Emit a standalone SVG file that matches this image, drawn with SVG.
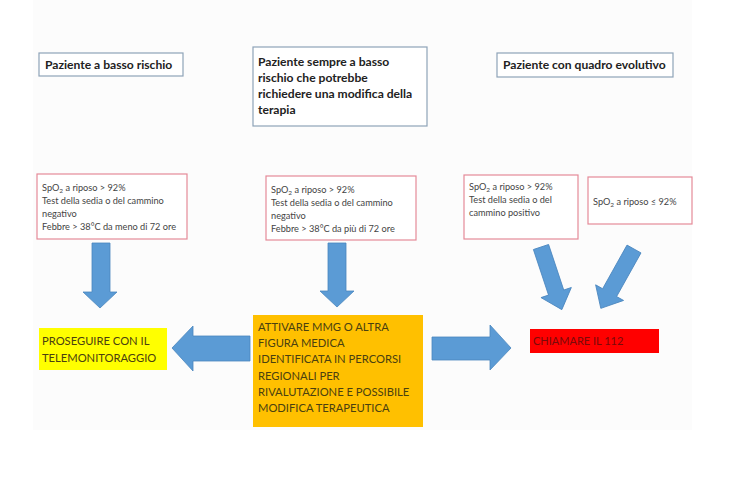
<svg xmlns="http://www.w3.org/2000/svg" width="740" height="480" viewBox="0 0 740 480">
<defs>
<style>
.hdr{fill:#fff;stroke:#8ea3b8;stroke-width:1.2}
.crit{fill:#fff;stroke:#e58a98;stroke-width:1.2}
.ht{font-family:Lato,"Liberation Sans",sans-serif;font-weight:bold;font-size:12.1px;fill:#222}
.ct{font-family:Lato,"Liberation Sans",sans-serif;font-size:9.2px;fill:#444}
.at{font-family:Lato,"Liberation Sans",sans-serif;font-size:11.2px;fill:#4a4010}
.arr{fill:#5b9bd5;stroke:#4a86be;stroke-width:0.8}
</style>
</defs>
<rect x="0" y="0" width="740" height="480" fill="#fff"/>
<rect x="33" y="0" width="659" height="430" fill="#fcfcfc"/>

<g id="hdr1">
<rect class="hdr" x="39" y="53" width="144" height="23"/>
<text class="ht" x="45" y="69">Paziente a basso rischio</text>
</g>
<g id="hdr2">
<rect class="hdr" x="253" y="47" width="174" height="79"/>
<text class="ht" x="258" y="66">Paziente sempre a basso</text>
<text class="ht" x="258" y="82">rischio che potrebbe</text>
<text class="ht" x="258" y="98">richiedere una modifica della</text>
<text class="ht" x="258" y="114">terapia</text>
</g>
<g id="hdr3">
<rect class="hdr" x="497" y="53" width="176" height="24"/>
<text class="ht" x="503" y="69">Paziente con quadro evolutivo</text>
</g>

<g id="crit1">
<rect class="crit" x="37" y="174" width="150" height="65"/>
<text class="ct" x="42" y="191">SpO<tspan font-size="6.5" dy="2">2</tspan><tspan dy="-2"> a riposo &gt; 92%</tspan></text>
<text class="ct" x="42" y="204">Test della sedia o del cammino</text>
<text class="ct" x="42" y="217">negativo</text>
<text class="ct" x="42" y="230">Febbre &gt; 38°C da meno di 72 ore</text>
</g>
<g id="crit2">
<rect class="crit" x="266" y="176" width="150" height="64"/>
<text class="ct" x="271" y="193">SpO<tspan font-size="6.5" dy="2">2</tspan><tspan dy="-2"> a riposo &gt; 92%</tspan></text>
<text class="ct" x="271" y="206">Test della sedia o del cammino</text>
<text class="ct" x="271" y="219">negativo</text>
<text class="ct" x="271" y="232">Febbre &gt; 38°C da più di 72 ore</text>
</g>
<g id="crit3">
<rect class="crit" x="464" y="175" width="114" height="64"/>
<text class="ct" x="469" y="190">SpO<tspan font-size="6.5" dy="2">2</tspan><tspan dy="-2"> a riposo &gt; 92%</tspan></text>
<text class="ct" x="469" y="203">Test della sedia o del</text>
<text class="ct" x="469" y="216">cammino positivo</text>
</g>
<g id="crit4">
<rect class="crit" x="588" y="177" width="104" height="47"/>
<text class="ct" x="593" y="205">SpO<tspan font-size="6.5" dy="2">2</tspan><tspan dy="-2"> a riposo ≤ 92%</tspan></text>
</g>

<g id="act1">
<rect x="39" y="328" width="128" height="42" fill="#ffff00"/>
<text class="at" x="42" y="345">PROSEGUIRE CON IL</text>
<text class="at" x="42" y="362">TELEMONITORAGGIO</text>
</g>
<g id="act2">
<rect x="253" y="315" width="170" height="112" fill="#ffc000"/>
<text class="at" x="258" y="331">ATTIVARE MMG O ALTRA</text>
<text class="at" x="258" y="347">FIGURA MEDICA</text>
<text class="at" x="258" y="363">IDENTIFICATA IN PERCORSI</text>
<text class="at" x="258" y="380">REGIONALI PER</text>
<text class="at" x="258" y="396">RIVALUTAZIONE E POSSIBILE</text>
<text class="at" x="258" y="412">MODIFICA TERAPEUTICA</text>
</g>
<g id="act3">
<rect x="530" y="329" width="129" height="24" fill="#ff0000"/>
<text x="533" y="345" font-family="Lato,'Liberation Sans',sans-serif" font-size="11px" fill="#7a0a0a">CHIAMARE IL 112</text>
</g>

<g id="connectors">
<polygon class="arr" points="92,243 110,243 110,292 117,292 100,308 83,292 92,292"/>
<polygon class="arr" points="328,243 346,243 346,291 354,291 337,307 320,291 328,291"/>
<polygon class="arr" points="250,336 250,361 193,361 193,371 172,348 193,326 193,336"/>
<polygon class="arr" points="432,337 432,360 490,360 490,370 511,348 490,325 490,337"/>
<g transform="translate(541,247) rotate(-18.4)">
<polygon class="arr" points="-8,0 8,0 8,48 16,48 0,66 -16,48 -8,48"/>
</g>
<g transform="translate(634,249) rotate(29.2)">
<polygon class="arr" points="-8,0 8,0 8,50 16,50 0,68 -16,50 -8,50"/>
</g>
</g>
</svg>
